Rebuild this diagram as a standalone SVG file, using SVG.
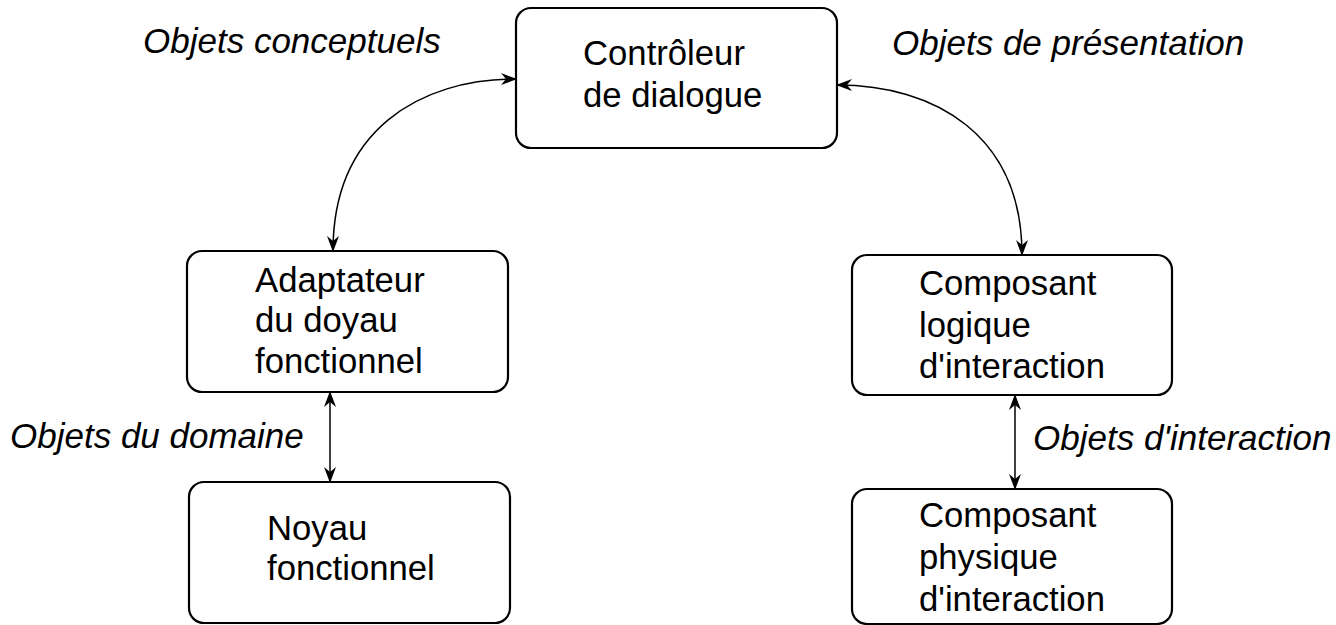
<svg xmlns="http://www.w3.org/2000/svg" width="1336" height="625" viewBox="0 0 1336 625">
  <style>
    .box { fill: #ffffff; stroke: #000000; stroke-width: 2.2; }
    .lbl { font-family: "Liberation Sans", Arial, sans-serif; font-size: 34.7px; fill: #000000; }
    .note { font-family: "Liberation Sans", Arial, sans-serif; font-size: 35px; font-style: italic; fill: #000000; }
    .link { fill: none; stroke: #000000; stroke-width: 1.5; marker-start: url(#arrowStart); marker-end: url(#arrowEnd); }
  </style>
  <defs>
    <marker id="arrowEnd" viewBox="0 0 16 12" refX="15" refY="6" markerWidth="16" markerHeight="12" markerUnits="userSpaceOnUse" orient="auto">
      <path d="M0,0 L16,6 L0,12 L5,6 Z" fill="#000000"/>
    </marker>
    <marker id="arrowStart" viewBox="0 0 16 12" refX="1" refY="6" markerWidth="16" markerHeight="12" markerUnits="userSpaceOnUse" orient="auto">
      <path d="M16,0 L0,6 L16,12 L11,6 Z" fill="#000000"/>
    </marker>
  </defs>

  <rect width="1336" height="625" fill="#ffffff"/>

  <!-- connectors -->
  <g id="connectors">
    <path class="link" d="M516,79 C420,79 333,130 333,251"/>
    <path class="link" d="M837,85 C935,85 1022,135 1022,255"/>
    <path class="link" d="M330,392 L330,482"/>
    <path class="link" d="M1015,395 L1015,489"/>
  </g>

  <!-- connector labels -->
  <g id="labels">
    <text class="note" x="143" y="53">Objets conceptuels</text>
    <text class="note" x="892" y="55">Objets de présentation</text>
    <text class="note" x="10" y="448">Objets du domaine</text>
    <text class="note" x="1033" y="450">Objets d'interaction</text>
  </g>

  <g id="controleur">
    <rect class="box" x="516" y="8" width="321" height="140" rx="15"/>
    <text class="lbl" x="583" y="65">Contrôleur</text>
    <text class="lbl" x="583" y="107">de dialogue</text>
  </g>

  <g id="adaptateur">
    <rect class="box" x="187" y="251" width="321" height="141" rx="15"/>
    <text class="lbl" x="255" y="292">Adaptateur</text>
    <text class="lbl" x="255" y="332">du doyau</text>
    <text class="lbl" x="255" y="373">fonctionnel</text>
  </g>

  <g id="noyau">
    <rect class="box" x="189" y="482" width="321" height="141" rx="15"/>
    <text class="lbl" x="267" y="540">Noyau</text>
    <text class="lbl" x="267" y="580">fonctionnel</text>
  </g>

  <g id="logique">
    <rect class="box" x="852" y="255" width="320" height="140" rx="15"/>
    <text class="lbl" x="919" y="295">Composant</text>
    <text class="lbl" x="919" y="337">logique</text>
    <text class="lbl" x="919" y="378">d'interaction</text>
  </g>

  <g id="physique">
    <rect class="box" x="852" y="489" width="320" height="135" rx="15"/>
    <text class="lbl" x="919" y="527">Composant</text>
    <text class="lbl" x="919" y="569">physique</text>
    <text class="lbl" x="919" y="611">d'interaction</text>
  </g>
</svg>
